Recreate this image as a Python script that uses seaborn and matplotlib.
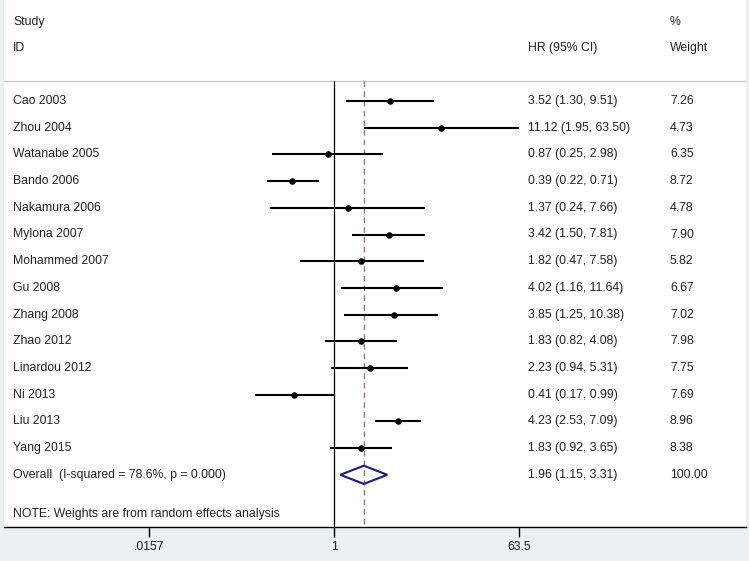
import matplotlib
matplotlib.use("Agg")
import matplotlib.pyplot as plt
import matplotlib.transforms as mtransforms
import numpy as np
import pandas as pd
import seaborn as sns

studies = ["Cao 2003", "Zhou 2004", "Watanabe 2005", "Bando 2006", "Nakamura 2006",
           "Mylona 2007", "Mohammed 2007", "Gu 2008", "Zhang 2008", "Zhao 2012",
           "Linardou 2012", "Ni 2013", "Liu 2013", "Yang 2015"]
hr = [3.52, 11.12, 0.87, 0.39, 1.37, 3.42, 1.82, 4.02, 3.85, 1.83, 2.23, 0.41, 4.23, 1.83]
ci_low = [1.30, 1.95, 0.25, 0.22, 0.24, 1.50, 0.47, 1.16, 1.25, 0.82, 0.94, 0.17, 2.53, 0.92]
ci_high = [9.51, 63.50, 2.98, 0.71, 7.66, 7.81, 7.58, 11.64, 10.38, 4.08, 5.31, 0.99, 7.09, 3.65]
weights = ["7.26", "4.73", "6.35", "8.72", "4.78", "7.90", "5.82", "6.67", "7.02", "7.98",
           "7.75", "7.69", "8.96", "8.38"]

overall_label = "Overall  (I-squared = 78.6%, p = 0.000)"
overall_hr = 1.96
overall_low = 1.15
overall_high = 3.31
overall_weight = "100.00"

tick_values = [0.0157, 1, 63.5]
tick_labels = [".0157", "1", "63.5"]

df = pd.DataFrame({"study": studies, "hr": hr, "lo": ci_low, "hi": ci_high, "weight": weights})
df["row"] = np.arange(len(df))
overall_row = len(df)

sns.set_style("white")
plt.rcParams["font.family"] = ["Liberation Sans", "DejaVu Sans"]

W, H = 749, 561
fig = plt.figure(figsize=(W / 100, H / 100), dpi=100, facecolor="#e9f1f3")

# layout in pixels
left_px, right_px = 4, 746
bottom_px = 527
row0_px, row_step = 101, 26.7
x1_px, px_per_ln = 334, 44.5

ax = fig.add_axes([left_px / W, (H - bottom_px) / H, (right_px - left_px) / W, bottom_px / H])
ax.set_facecolor("white")
ax.set_xscale("log")
ax.set_xlim(np.exp((left_px - x1_px) / px_per_ln), np.exp((right_px - x1_px) / px_per_ln))
ax.set_ylim((bottom_px - row0_px) / row_step, -row0_px / row_step)

for side in ["top", "left", "right"]:
    ax.spines[side].set_visible(False)
ax.spines["bottom"].set_color("black")
ax.spines["bottom"].set_linewidth(1.0)
ax.set_yticks([])
ax.set_xticks(tick_values)
ax.set_xticklabels(tick_labels)
ax.xaxis.set_minor_locator(matplotlib.ticker.NullLocator())
ax.tick_params(axis="x", direction="out", length=7, width=1, color="black",
               labelsize=8.8, labelcolor="#222222", pad=3, bottom=True)

header_y = (81 - row0_px) / row_step
bottom_y = (bottom_px - row0_px) / row_step
ax.axhline(header_y, color="#c8c8c8", lw=1.0)
ax.vlines(1, header_y, bottom_y, color="black", lw=0.9)
ax.vlines(overall_hr, header_y, bottom_y, color="#a07272", lw=1.0, linestyles=(0, (4, 3)))

# confidence intervals and points
ax.hlines(df["row"], df["lo"], df["hi"], color="black", lw=1.5)
sns.scatterplot(data=df, x="hr", y="row", color="black", s=22, edgecolor="black",
                linewidth=0, ax=ax, zorder=3, legend=False)

# overall diamond
dh = 0.34
ax.fill([overall_low, overall_hr, overall_high, overall_hr],
        [overall_row, overall_row - dh, overall_row, overall_row + dh],
        facecolor="none", edgecolor="#1c1f6b", lw=1.5, zorder=3)

blend = mtransforms.blended_transform_factory(fig.transFigure, ax.transData)
txt = dict(fontsize=8.8, color="#222222", va="center", transform=blend)
label_x = 13 / W
hr_x = 528 / W
w_x = 670 / W

ax.text(label_x, (22 - row0_px) / row_step, "Study", **txt)
ax.text(label_x, (48 - row0_px) / row_step, "ID", **txt)
ax.text(hr_x, (48 - row0_px) / row_step, "HR (95% CI)", **txt)
ax.text(w_x, (22 - row0_px) / row_step, "%", **txt)
ax.text(w_x, (48 - row0_px) / row_step, "Weight", **txt)

for _, r in df.iterrows():
    ax.text(label_x, r["row"], r["study"], **txt)
    ax.text(hr_x, r["row"], f"{r['hr']:.2f} ({r['lo']:.2f}, {r['hi']:.2f})", **txt)
    ax.text(w_x, r["row"], r["weight"], **txt)

ax.text(label_x, overall_row, overall_label, **txt)
ax.text(hr_x, overall_row, f"{overall_hr:.2f} ({overall_low:.2f}, {overall_high:.2f})", **txt)
ax.text(w_x, overall_row, overall_weight, **txt)
ax.text(label_x, (514 - row0_px) / row_step, "NOTE: Weights are from random effects analysis", **txt)

ax.set_xlabel("")
ax.set_ylabel("")
fig.savefig("out.png", dpi=100, facecolor=fig.get_facecolor())
